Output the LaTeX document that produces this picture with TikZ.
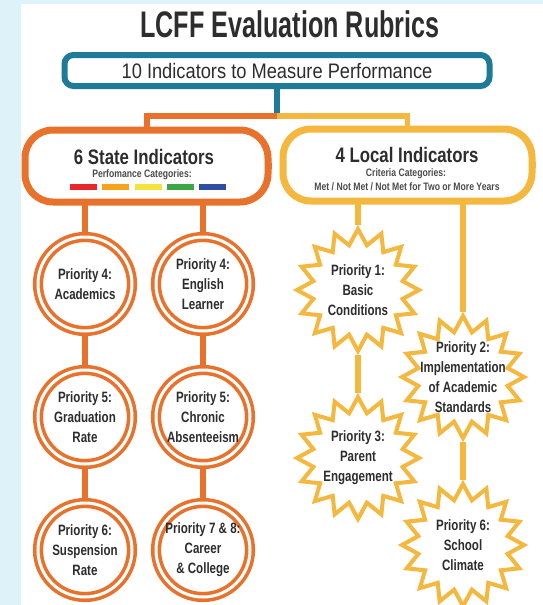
\documentclass[tikz,border=0pt]{standalone}
\usepackage{fontspec}
\setmainfont{Liberation Sans}
\newfontfamily\titlefont[FakeStretch=0.68]{Liberation Sans}
\newfontfamily\boxfont[FakeStretch=0.87]{Liberation Sans}
\newfontfamily\headfont[FakeStretch=0.80]{Liberation Sans}
\newfontfamily\prifont[FakeStretch=0.77]{Liberation Sans}
\usetikzlibrary{shapes.geometric,backgrounds}

\definecolor{sky}{HTML}{DDF2F9}
\definecolor{ink}{HTML}{2D2D2D}
\definecolor{lcffteal}{HTML}{1D7B97}
\definecolor{lcfforange}{HTML}{E8722C}
\definecolor{lcffyellow}{HTML}{F3B83D}
\definecolor{barred}{HTML}{E8262B}
\definecolor{barorange}{HTML}{F6A21B}
\definecolor{baryellow}{HTML}{F3E43C}
\definecolor{bargreen}{HTML}{3BA548}
\definecolor{barblue}{HTML}{2F4EA0}

\begin{document}
\begin{tikzpicture}[x=1pt,y=-1pt,
  prio/.style = {draw=lcfforange, circle, fill=white, line width=3.6pt, double=white, double distance=3pt,
    minimum size=94pt, inner sep=0pt, align=center, text=ink, font=\prifont\bfseries\fontsize{15}{20}\selectfont},
  burst/.style = {draw=lcffyellow, star, star points=16, star point ratio=1.34, fill=white, line width=4pt,
    minimum size=122pt, inner sep=0pt},
  ptext/.style = {align=center, text=ink, font=\prifont\bfseries\fontsize{15}{20}\selectfont},
  head/.style = {anchor=base, text=ink, font=\headfont\bfseries\fontsize{21}{21}\selectfont},
  small/.style = {anchor=base, text=ink!85, font=\headfont\bfseries\fontsize{10.8}{11}\selectfont},
  groupbox/.style = {draw, fill=white, line width=7pt, rounded corners=28pt, minimum height=72pt},
  orangeline/.style = {draw=lcfforange, line width=6pt},
  yellowline/.style = {draw=lcffyellow, line width=5.5pt},
  node distance=133pt]
\useasboundingbox (0,0) rectangle (543,605);

\node[anchor=base, text=ink, font=\titlefont\bfseries\fontsize{37}{37}\selectfont] (title) at (290,37) {LCFF Evaluation Rubrics};
\node[draw=lcffteal, fill=white, line width=6pt, rounded corners=9pt, minimum width=425pt, minimum height=31pt,
  text=ink, font=\boxfont\fontsize{21}{21}\selectfont] (top) at (277,70.5) {10 Indicators to Measure Performance};

\node[groupbox, draw=lcfforange, minimum width=243pt] (state) at (146.5,166) {};
\node[groupbox, draw=lcffyellow, minimum width=249pt] (local) at (407.5,165) {};
\node[head] (statehead) at (144,164) {6 State Indicators};
\node[small] (statesub) at (142,177.5) {Perfomance Categories:};
\node[head] (localhead) at (407,162) {4 Local Indicators};
\node[small] (localsub) at (406,176) {Criteria Categories:};
\node[small] (localcrit) at (407,190.5) {Met / Not Met / Not Met for Two or More Years};
\foreach \c [count=\i] in {barred,barorange,baryellow,bargreen,barblue}
  \fill[\c] ({70+(\i-1)*32.25},183.5) rectangle ++(27,6.5);

\node[prio] (a1) at (85,284) {Priority 4:\\Academics};
\node[prio] (a2) [below of=a1] {Priority 5:\\Graduation\\Rate};
\node[prio] (a3) [below of=a2] {Priority 6:\\Suspension\\Rate};
\node[prio] (b1) at (203,284) {Priority 4:\\English\\Learner};
\node[prio] (b2) [below of=b1] {Priority 5:\\Chronic\\Absenteeism};
\node[prio] (b3) [below of=b2] {Priority 7 \& 8:\\Career\\\& College};

\node[burst, label={[ptext]center:{Priority 1:\\Basic\\Conditions}}] (s1) at (358,290) {};
\node[burst, label={[ptext]center:{Priority 3:\\Parent\\Engagement}}] (s3) [below of=s1, node distance=168pt] {};
\node[burst, label={[ptext]center:{Priority 2:\\Implementation\\of Academic\\Standards}}] (s2) at (463,377) {};
\node[burst, label={[ptext]center:{Priority 6:\\School\\Climate}}] (s4) [below of=s2, node distance=168pt] {};

\coordinate (split) at (277,116);

\begin{scope}[on background layer]
\fill[sky] (0,0) rectangle (543,605);
\fill[white] (21,4) rectangle (543,605);
\draw[draw=lcffteal, line width=6pt] (top) -- (split);
\draw[orangeline] (split) -| (state);
\draw[yellowline] (split) -| (local);
\draw[orangeline] (state) -| (a1) -- (a2) -- (a3);
\draw[orangeline] (state) -| (b1) -- (b2) -- (b3);
\draw[yellowline] (local) -| (s1) -- (s3);
\draw[yellowline] (local) -| (s2) -- (s4);
\end{scope}
\end{tikzpicture}
\end{document}
